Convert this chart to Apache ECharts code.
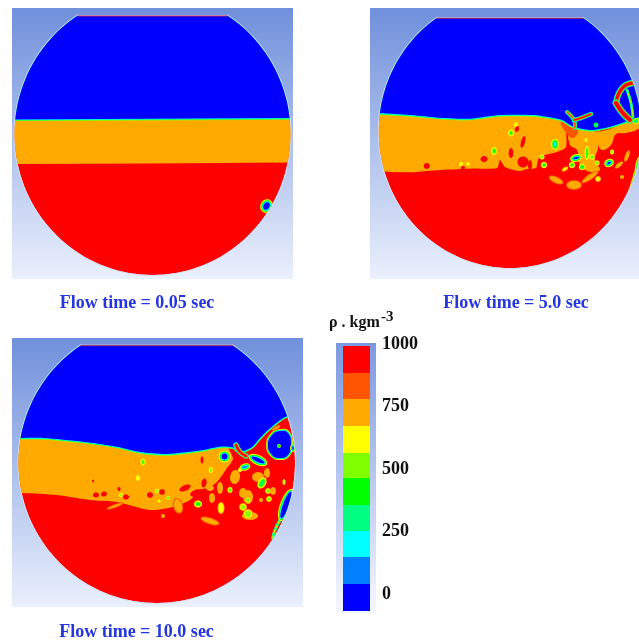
<!DOCTYPE html>
<html><head><meta charset="utf-8">
<style>html,body{margin:0;padding:0;background:#fff}#c{width:639px;height:643px;filter:blur(0.7px)}</style>
<script src="https://cdn.jsdelivr.net/npm/echarts@6/dist/echarts.min.js"></script>
</head><body><div id="c"></div>
<script>
// Density scale (kg/m3): colour index 0 = lowest band ... 9 = highest band
const bandColors=['#0000ff','#0080ff','#00ffff','#00ff80','#00ff00','#80ff00','#ffff00','#ffaa00','#ff5500','#ff0000'];
const bandEdges=[-68,40,148,252,356,464,564,672,780,884,992];
const tickValues=[0,250,500,750,1000];
const captions=['Flow time = 0.05 sec','Flow time = 5.0 sec','Flow time = 10.0 sec'];

// Vessel outlines [cx,cy,rx,ry,topY,topHalfWidth]
const vessel1=[152.5,134,138,141,16,75.5];
const vessel2=[510,131.4,131.3,136.6,18.3,73.5];
const vessel3=[156.7,462.7,138.3,140.3,345.7,76.3];

// Gas/liquid interface polygons (blue)
const gas1=[[0,119.5],[100,119],[200,118.5],[300,118],[300,0],[0,0]];
const gas2=[[360,113],[380,113.3],[410,115],[443,118],[470,118.7],[500,115],[533,115],[548,117],[562,120],[574,127],[592,130],[609,127],[622,123],[631,120],[650,110],[650,0],[360,0]];
const gas3=[[5,438],[20,438],[43,438],[83,441.7],[117,446.7],[140,452],[167,454],[200,450.5],[220,446.7],[233,447.5],[240,452],[252,447],[260,438],[268,430],[283,418],[290,415],[310,400],[310,330],[5,330]];

// Light liquid polygons (orange)
const oil1=[[0,116],[300,116],[300,162.5],[150,163.5],[0,164]];
const oil2=[[360,108],[570,108],[566,125],[566,147],[557,152],[541,156],[538,160],[536,168],[527,169],[519,171],[505,167],[500,160],[497,168],[473,168.5],[440,170],[410,172.3],[387,171.7],[360,168]];
const oil3=[[5,430],[220,440],[233,458],[227,468],[217,482],[210,487],[200,490],[190,500],[173,507],[150,510],[117,502],[90,500],[57,495],[23,493],[5,492]];

// Extra liquid patches [level, points]
const patches2=[
 [7,[[579,131],[602,131],[626,122],[640,114],[640,127],[626,133],[616,134],[611,145],[602,150],[596,142],[589,137]]],
 [7,[[570,130],[590,133],[598,145],[595,160],[600,170],[590,172],[580,165],[577,150],[570,145]]],
 [8,[[561,122],[572,125],[578,132],[572,138],[564,130]]]
];
const patches3=[];

// Thin films [width, coreLevel, points]
const films2=[
 [3.2,9,[[616,103],[619,93],[626,85],[640,82]]],
 [4,9,[[616,103],[622,112],[630,120]]],
 [0.8,7,[[627,90],[631,103],[633,117]]],
 [1,9,[[567,112],[574,120],[575,128]]],
 [1.4,9,[[574,120],[581,118],[591,114]]],
 [1.6,0,[[640,160],[636,175],[629,197],[625,205]]]
];
const films3=[
 [2.5,9,[[236,445],[240,452],[246,456]]],
 [1,7,[[280,520],[275,530],[272.7,538]]]
];

// Large closed bubbles [points]
const bubbles3=[[[268,445],[272,435],[280,431],[288,433],[291,445],[288,455],[280,458],[272,455]]];

// Droplets [cx,cy,rx,ry,rotation,outerLevel,innerLevel]
const drops1=[[266.5,206,6,7,30,6,0]];
const drops2=[
 [516,125,2,3,0,6,6],[511,133,3,3.5,0,6,4],[517,129,2,3,20,9,9],[523,142,2,6,15,9,9],[494,151,3,4,0,6,4],
 [511,153,2.3,5,0,9,9],[484,159,3.5,3,0,9,9],[461,164,2,2,0,6,6],[468,164,1.8,1.8,0,6,6],[463,168,2,2,0,9,9],
 [523,162,5.5,5.5,0,9,9],[426.7,166,3,3,0,9,9],[530,165,2,5,0,9,9],
 [555,144.3,4,5.5,0,6,2],[542,157,2.5,2.5,0,6,4],[544,165,3.2,3.2,0,6,4],[596,125,2.5,2.5,0,4,2],
 [586,140,2.5,3,0,7,6],[587,153,2.5,7,0,6,4],[592,157,2.5,2.8,0,6,4],[597,163,2.8,2.8,0,7,4],
 [576,158,6,3.8,-15,6,0],[572,165,3.2,3.2,0,6,4],[582,167,3.2,3.2,0,6,3],[609,163,5,4,-30,6,0],[612,152,2,2.5,0,6,5],
 [619,165,2,5,50,7,7],[627,156,2,6,20,7,7],[622,177,2,2,0,7,7],[598,179,3,3,0,7,6],[565,169,3.5,2,-30,7,6],
 [556,180,8,3.5,25,8,7],[574,185,8,5,0,8,7],[590,177,10,3,-35,8,7],[639,165,3.5,9,10,6,0],[636,121,3,3,0,6,2]
];
const drops3=[
 [143,462,2.5,3.5,0,6,4],[138,478,2,3,0,6,6],[93,481,1,1.3,0,9,9],[96,495,3,2.5,0,9,9],[104,494,3,2.5,-20,9,9],
 [119,489,1.5,2,0,9,9],[120.7,495,2,2,0,6,5],[126,497,3,2.5,0,9,9],[150,495,3,2.8,0,9,9],[157,491,2.2,2.2,0,6,5],
 [162,492,2.8,2.8,0,9,9],[159,501,1.8,1.5,0,6,6],[168,498,2,2,0,6,4],[185,488,6,2.8,-25,9,9],[202,460,1.5,3.5,0,9,9],
 [204,483,2.5,4.5,10,9,9],[197,493,7,3.5,-15,9,9],[178,506,5,8,-15,8,7],[115,506,9,2,-20,8,7],[163,516,2,2,0,7,7],
 [210,521,10,3.5,18,8,7],[198,504,4,3.5,0,6,4],[210.7,470,2.2,3,0,6,5],
 [235,477,5,7,10,7,7],[220,488,3,6,0,7,7],[212,498,3,5,0,7,7],[243,493,4,5,0,7,7],[258,477,6,5,0,7,7],[267,473,3,5,0,7,7],
 [273,491,3,4,0,7,7],[248,497,5,7,0,7,7],[250,516,8,4,0,7,7],[210,488,4,3,0,7,7],[221,508,3.5,6,0,7,6],
 [224.5,456.5,6,6,0,6,0],[279,446,2,2,0,5,3],[293,448,3,4,0,6,0],[276,428,5,2,-30,8,7],
 [258,460,10,5,25,6,0],[245,467,5.5,3.5,-15,6,1],[262,483,4,6,30,6,3],[268,491,3,3,0,7,4],[230,490,2.8,3.2,0,7,4],
 [248,500,3.2,3.2,0,7,4],[284,482,1.5,3,0,6,5],[243,507,4,4,0,7,5],[248,514,5,5,0,7,5],[269,499,3,3,0,7,4],[261,500,2,2,0,7,7],
 [240,470,2,2,0,6,6],[286,505,6,17,20,6,0]
];

// Panel windows (axis ranges) [xMin,xMax,yMin,yMax]
const windows=[[12,293,8,279],[370,639,8,279],[12,303,338,607]];
const panelLayers=[
 {vessel:vessel1,gas:gas1,gasSmooth:0,oil:oil1,oilSmooth:0,patches:[],films:[],bubbles:[],drops:drops1},
 {vessel:vessel2,gas:gas2,gasSmooth:0.25,oil:oil2,oilSmooth:0.25,patches:patches2,films:films2,bubbles:[],drops:drops2},
 {vessel:vessel3,gas:gas3,gasSmooth:0.25,oil:oil3,oilSmooth:0.25,patches:patches3,films:films3,bubbles:bubbles3,drops:drops3}
];

function outline(v,api){
  const [cx,cy,rx,ry,top,hw]=v, pts=[];
  const a0=Math.asin(Math.min(1,hw/rx));
  for(let i=0;i<=120;i++){
    const a=a0+(2*Math.PI-2*a0)*i/120;
    pts.push(api.coord([cx+rx*Math.sin(a),cy-ry*Math.cos(a)]));
  }
  pts.push(api.coord([cx-hw,top]),api.coord([cx+hw,top]));
  return pts;
}
function ringed(pts,api,fill,rings,smooth,step){
  const p=pts.map(q=>api.coord(q)), out=[];
  const base={type:'polygon',shape:{points:p,smooth:smooth}};
  rings.forEach((lv,i)=>{
    const w=(rings.length-i)*(step||1.3);
    out.push({...base,style:{fill:bandColors[lv],stroke:bandColors[lv],lineWidth:w,lineJoin:'round'}});
  });
  out.push({...base,style:{fill:bandColors[fill]}});
  return out;
}
function ellipsePts(x,y,rx,ry,rot,api){
  const pts=[],r=rot*Math.PI/180;
  for(let i=0;i<24;i++){
    const a=i/24*2*Math.PI, ex=rx*Math.cos(a), ey=ry*Math.sin(a);
    pts.push(api.coord([x+ex*Math.cos(r)-ey*Math.sin(r),y+ex*Math.sin(r)+ey*Math.cos(r)]));
  }
  return pts;
}
function dropEls(d,api){
  const [x,y,rx,ry,rot,outer,inner]=d, out=[];
  const ladder=[];
  for(let l=outer;l>=inner;l--) ladder.push(l);
  let seq=ladder;
  if(ladder.length>5) seq=ladder.filter((l,i)=>i%2===0||l===inner);
  const n=seq.length;
  const step=n>1?Math.min(1,Math.min(rx,ry)*0.75/(n-1)):0;
  seq.forEach((l,i)=>{
    out.push({type:'polygon',shape:{points:ellipsePts(x,y,rx-i*step,ry-i*step,rot,api)},style:{fill:bandColors[l]}});
  });
  return out;
}
function filmEls(f,api){
  const [w,core,pts]=f, p=pts.map(q=>api.coord(q));
  const seq=core===9?[2,4,7,9]:core===7?[2,4,6]:[7,6,4,2,0];
  return seq.map((l,i)=>({type:'polyline',shape:{points:p,smooth:0.4},
    style:{fill:null,stroke:bandColors[l],lineWidth:w+(seq.length-1-i)*1.0,lineCap:'round',lineJoin:'round'}}));
}
function renderPanel(idx){
  return function(params,api){
    const L=panelLayers[idx], vp=outline(L.vessel,api);
    const kids=[];
    kids.push({type:'polygon',shape:{points:vp},style:{fill:bandColors[9]}});
    kids.push(...ringed(L.oil,api,7,[],L.oilSmooth));
    L.patches.forEach(pa=>kids.push(...ringed(pa[1],api,pa[0],[],0.4)));
    kids.push(...ringed(L.gas,api,0,[5,3,2],L.gasSmooth,1.1));
    L.films.forEach(f=>kids.push(...filmEls(f,api)));
    L.bubbles.forEach(b=>kids.push(...ringed(b,api,0,[6,4,2],0.5,1.3)));
    L.drops.forEach(d=>kids.push(...dropEls(d,api)));
    const t0=api.coord([L.vessel[0]-L.vessel[5],L.vessel[4]]),t1=api.coord([L.vessel[0]+L.vessel[5],L.vessel[4]]);
    return {type:'group',children:[
      {type:'polygon',shape:{points:vp},style:{fill:'none',stroke:'#d5def5',lineWidth:1.8}},
      {type:'group',clipPath:{type:'polygon',shape:{points:vp}},children:kids},
      {type:'line',shape:{x1:t0[0],y1:t0[1],x2:t1[0],y2:t1[1]},style:{stroke:'#b0205a',lineWidth:1}}
    ]};
  };
}
const bg=(a,b)=>({type:'linear',x:0,y:0,x2:0,y2:1,colorStops:[{offset:0,color:a},{offset:1,color:b}]});
const grids=windows.map(w=>({left:w[0],top:w[2],width:w[1]-w[0],height:w[3]-w[2],show:true,borderWidth:0,backgroundColor:bg('#7090dc','#eaf0fc')}));
grids.push({left:336,top:343,width:40,height:270,show:true,borderWidth:0,backgroundColor:bg('#7c98e0','#f6f8fe')});
const xAxes=windows.map((w,i)=>({gridIndex:i,type:'value',min:w[0],max:w[1],show:false}));
xAxes.push({gridIndex:3,type:'value',min:336,max:376,show:false});
const yAxes=windows.map((w,i)=>({gridIndex:i,type:'value',min:w[2],max:w[3],inverse:true,show:false}));
yAxes.push({gridIndex:3,type:'value',min:-76,max:1004,position:'right',
  axisLine:{show:false},axisTick:{show:false},splitLine:{show:false},
  axisLabel:{customValues:tickValues,margin:6,color:'#111',fontFamily:'Liberation Serif',fontWeight:'bold',fontSize:18,formatter:v=>String(v)}});
const series=windows.map((w,i)=>({type:'custom',xAxisIndex:i,yAxisIndex:i,clip:false,silent:true,animation:false,
  data:[[w[0],w[2]]],renderItem:renderPanel(i)}));
series.push({type:'custom',xAxisIndex:3,yAxisIndex:3,silent:true,animation:false,
  data:bandColors.map((c,i)=>[i,bandEdges[i],bandEdges[i+1]]),
  encode:{y:[1,2]},
  renderItem(params,api){
    const a=api.coord([343,api.value(1)]),b=api.coord([370,api.value(2)]);
    return {type:'rect',shape:{x:a[0],y:b[1],width:b[0]-a[0],height:a[1]-b[1]},style:{fill:bandColors[api.value(0)]}};
  }});
const capStyle={fontFamily:'Liberation Serif',fontWeight:'bold',fontSize:18,fill:'#2436e0',textAlign:'center',textVerticalAlign:'middle'};
const capPos=[[137,303],[516,303],[136.5,632]];
const chart=echarts.init(document.getElementById('c'),null,{renderer:'canvas'});
chart.setOption({animation:false,grid:grids,xAxis:xAxes,yAxis:yAxes,series,
  graphic:[
    ...captions.map((t,i)=>({type:'text',x:capPos[i][0],y:capPos[i][1],style:{...capStyle,text:t}})),
    {type:'text',x:329,y:315,style:{text:'ρ . kgm',fontFamily:'Liberation Serif',fontWeight:'bold',fontSize:16,fill:'#111'}},
    {type:'text',x:381,y:310,style:{text:'-3',fontFamily:'Liberation Serif',fontWeight:'bold',fontSize:15,fill:'#111'}}
  ]});
</script></body></html>
